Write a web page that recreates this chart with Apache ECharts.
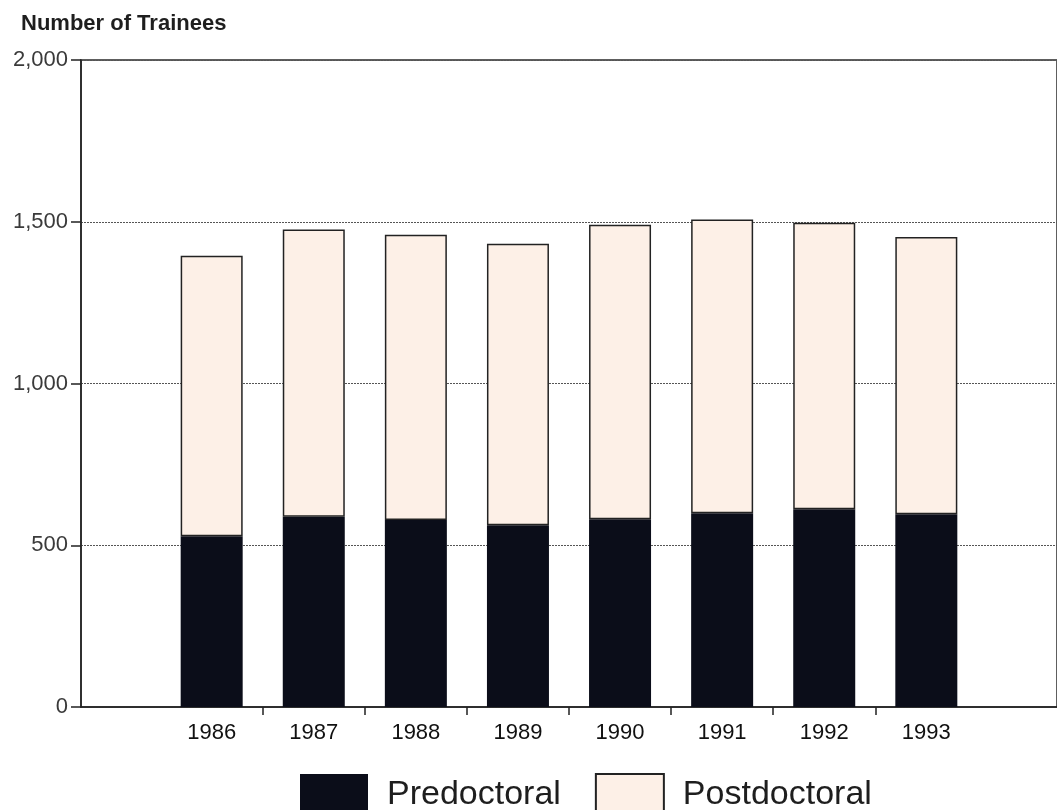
<!DOCTYPE html>
<html>
<head>
<meta charset="utf-8">
<title>Number of Trainees</title>
<script src="https://cdn.jsdelivr.net/npm/echarts@6/dist/echarts.min.js"></script>
<style>
  html, body { margin: 0; padding: 0; background: #fff; }
  #chart { width: 1057px; height: 810px; }
</style>
</head>
<body>
<div id="chart"></div>
<script>
// data
const years = ['1986', '1987', '1988', '1989', '1990', '1991', '1992', '1993'];
const predoctoral = [528, 588, 578, 562, 580, 599, 611, 596];
const postdoctoral = [867, 888, 882, 870, 911, 908, 886, 857];

const font = '"Liberation Sans", Arial, Helvetica, sans-serif';
const chart = echarts.init(document.getElementById('chart'));

// bars sit on a value axis so the empty margin left and right of the years can be kept
const xIdx = years.map((y, i) => i);
const between = years.slice(1).map((y, i) => i + 0.5);

// value first, position second, so the stack goes on the value
const toData = arr => arr.map((v, i) => [v, xIdx[i]]);

chart.setOption({
  animation: false,
  title: {
    text: 'Number of Trainees',
    left: 21,
    top: 13,
    padding: 0,
    textStyle: { fontFamily: font, fontSize: 22, fontWeight: 'bold', color: '#1e1e1e' }
  },
  grid: {
    left: 81,
    right: -3,
    top: 60,
    bottom: 103,
    show: true,
    borderColor: '#2a2a2a',
    borderWidth: 1.5
  },
  legend: {
    left: 300,
    top: 773,
    padding: 0,
    itemWidth: 68,
    itemHeight: 42,
    itemGap: 34,
    icon: 'rect',
    textStyle: { fontFamily: font, fontSize: 34, color: '#1e1e1e', padding: [0, 0, 4, 14] },
    data: ['Predoctoral', 'Postdoctoral']
  },
  xAxis: {
    type: 'value',
    min: -1.28,
    max: 8.28,
    axisLine: { show: true, onZero: false, lineStyle: { color: '#222', width: 1.5 } },
    axisTick: { show: true, customValues: between, length: 8, lineStyle: { color: '#222', width: 1.5 } },
    axisLabel: {
      customValues: xIdx,
      margin: 15,
      fontFamily: font,
      fontSize: 22,
      color: '#111',
      formatter: v => years[Math.round(v)]
    },
    splitLine: { show: false }
  },
  yAxis: {
    type: 'value',
    min: 0,
    max: 2000,
    interval: 500,
    axisLine: { show: true, onZero: false, lineStyle: { color: '#222', width: 1.5 } },
    axisTick: { show: true, length: 10, lineStyle: { color: '#222', width: 1.5 } },
    axisLabel: {
      fontFamily: font,
      fontSize: 22,
      color: '#3a3a3a',
      margin: 13,
      formatter: v => v.toLocaleString('en-US')
    },
    splitLine: { show: true, lineStyle: { color: '#555', type: [2, 1], width: 1 } }
  },
  series: [
    {
      name: 'Predoctoral',
      type: 'bar',
      stack: 'total',
      barWidth: 62,
      encode: { x: 1, y: 0 },
      data: toData(predoctoral),
      itemStyle: { color: '#0b0d19' }
    },
    {
      name: 'Postdoctoral',
      type: 'bar',
      stack: 'total',
      barWidth: 62,
      encode: { x: 1, y: 0 },
      data: toData(postdoctoral),
      itemStyle: { color: '#fdf0e7', borderColor: '#222', borderWidth: 1.5 }
    }
  ]
});
</script>
</body>
</html>
